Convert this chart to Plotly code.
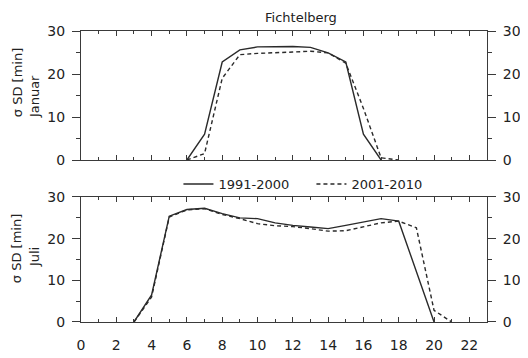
import plotly.graph_objects as go

hours = list(range(0, 24))
# Januar (Fichtelberg), index = hour
jan_1991_2000 = [None]*6 + [0, 6.0, 22.8, 25.6, 26.3, 26.4, 26.4, 26.2, 24.9, 22.8, 6.0, 0] + [None]*6
jan_2001_2010 = [None]*6 + [0, 1.5, 19.0, 24.5, 24.8, 24.9, 25.1, 25.3, 24.9, 22.5, 12.0, 0.5, 0] + [None]*5
# Juli
jul_1991_2000 = [None]*3 + [0, 6.5, 25.4, 27.0, 27.3, 26.0, 25.0, 24.8, 23.8, 23.2, 22.8, 22.4, 23.2, 24.0, 24.8, 24.2, None, 0] + [None]*3
jul_2001_2010 = [None]*3 + [0, 6.0, 25.2, 26.9, 27.2, 25.8, 24.8, 23.6, 23.1, 22.9, 22.4, 21.8, 21.9, 22.8, 23.8, 24.2, 22.6, 2.8, 0] + [None]*2

series_names = ["1991-2000", "2001-2010"]
x_ticks = list(range(0, 23, 2))
y_ticks = [0, 10, 20, 30]

FONT = "DejaVu Sans"
LC = "#2a2a2a"
AX = "#3a3a3a"

fig = go.Figure()

def add(y, name, dash, xa, ya, show, opacity=1):
    fig.add_trace(go.Scatter(
        x=hours, y=y, name=name, mode="lines", connectgaps=True,
        line=dict(color=LC, width=1.4, dash=dash),
        xaxis=xa, yaxis=ya, showlegend=show, opacity=opacity,
        hoverinfo="skip" if opacity == 0 else None))

add(jan_1991_2000, series_names[0], "solid", "x", "y", True)
add(jan_2001_2010, series_names[1], "4px,3px", "x", "y", True)
add(jul_1991_2000, series_names[0], "solid", "x2", "y2", False)
add(jul_2001_2010, series_names[1], "4px,3px", "x2", "y2", False)
# invisible copies so the right-hand axes render
add(jan_1991_2000, "", "solid", "x", "y3", False, 0)
add(jul_1991_2000, "", "solid", "x2", "y4", False, 0)

top_dom = [0.5567, 1.0]
bot_dom = [0.0, 0.4296]

xcommon = dict(range=[0, 23], tickvals=x_ticks, ticks="inside", ticklen=5, tickcolor=AX,
               minor=dict(dtick=1, tick0=0, ticks="inside", ticklen=3, tickcolor=AX),
               showline=True, linecolor=AX, linewidth=1, mirror="ticks",
               showgrid=False, zeroline=False, ticklabelstandoff=10, automargin=False,
               tickfont=dict(family=FONT, size=14, color="#222"))
ycommon = dict(range=[0, 30], tickvals=y_ticks, ticks="outside", ticklen=8, tickcolor=AX,
               minor=dict(dtick=5, tick0=0, ticks="outside", ticklen=4, tickcolor=AX),
               showline=True, linecolor=AX, linewidth=1,
               showgrid=False, zeroline=False, ticklabelstandoff=4, automargin=False,
               tickfont=dict(family=FONT, size=14, color="#222"))

fig.update_layout(
    width=520, height=350,
    margin=dict(l=73, r=41, t=23, b=36),
    paper_bgcolor="white", plot_bgcolor="white",
    font=dict(family=FONT, size=13, color="#222"),
    xaxis=dict(**xcommon, anchor="y", showticklabels=False),
    yaxis=dict(**ycommon, domain=top_dom, anchor="x"),
    yaxis3=dict(**ycommon, overlaying="y", side="right", anchor="x"),
    xaxis2=dict(**xcommon, anchor="y2"),
    yaxis2=dict(**ycommon, domain=bot_dom, anchor="x2"),
    yaxis4=dict(**ycommon, overlaying="y2", side="right", anchor="x2"),
    legend=dict(orientation="h", x=0.24, y=0.474, xanchor="left", yanchor="middle",
                font=dict(family=FONT, size=13, color="#222"), bgcolor="rgba(0,0,0,0)",
                itemwidth=30, tracegroupgap=0, entrywidth=88, entrywidthmode="pixels"),
    showlegend=True,
)

ann = [
    ("Fichtelberg", 0.543, 1.0447, 0),
    ("σ SD [min]", -0.1572, 0.8213, -90),
    ("Januar", -0.113, 0.7732, -90),
    ("σ SD [min]", -0.1572, 0.2509, -90),
    ("Juli", -0.113, 0.2234, -90),
]
for text, x, y, ang in ann:
    fig.add_annotation(text=text, x=x, y=y, xref="paper", yref="paper",
                       xanchor="center", yanchor="middle", showarrow=False,
                       textangle=ang, font=dict(family=FONT, size=13, color="#222"))

fig.write_html("out.html")
